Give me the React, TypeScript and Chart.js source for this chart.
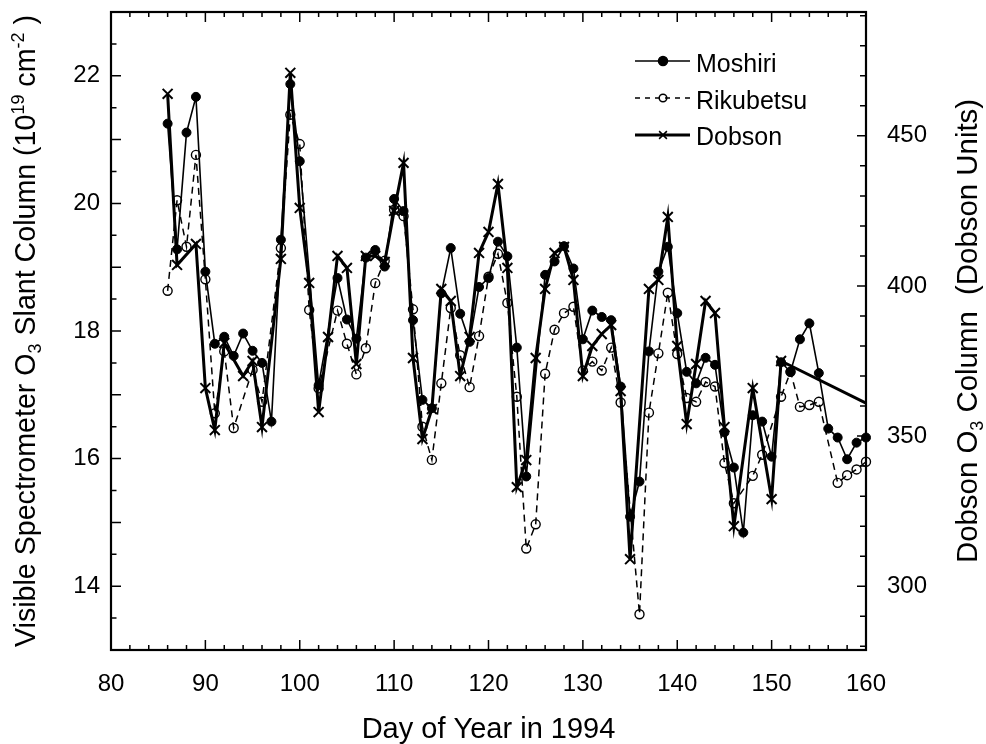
import React, { useEffect, useRef } from 'react';
import { Chart, registerables } from 'chart.js';

Chart.register(...registerables);

const FONT = '"Liberation Sans", Arial, Helvetica, sans-serif';

// Day of year (x) and visible spectrometer slant column, 10^19 cm^-2 (left axis)
const moshiriDays = [86, 87, 88, 89, 90, 91, 92, 93, 94, 95, 96, 97, 98, 99, 100, 102, 104, 105, 106, 107, 108, 109, 110, 111, 112, 113, 114, 115, 116, 117, 118, 119, 120, 121, 122, 123, 124, 126, 127, 128, 129, 130, 131, 132, 133, 134, 135, 136, 137, 138, 139, 140, 141, 142, 143, 144, 145, 146, 147, 148, 149, 150, 151, 152, 153, 154, 155, 156, 157, 158, 159, 160];
const moshiriValues = [21.25, 19.28, 21.11, 21.67, 18.93, 17.8, 17.91, 17.61, 17.96, 17.69, 17.5, 16.58, 19.43, 21.87, 20.66, 17.15, 18.83, 18.18, 17.88, 19.15, 19.27, 19.01, 20.07, 19.88, 18.17, 16.92, 16.79, 18.59, 19.3, 18.27, 17.83, 18.69, 18.83, 19.4, 19.17, 17.74, 15.72, 18.88, 19.09, 19.33, 18.98, 17.87, 18.32, 18.22, 18.17, 17.13, 15.09, 15.64, 17.68, 18.93, 19.32, 18.28, 17.36, 17.18, 17.58, 17.47, 16.41, 15.86, 14.84, 16.68, 16.58, 16.03, 17.51, 17.36, 17.87, 18.12, 17.34, 16.47, 16.33, 15.99, 16.25, 16.33];

const rikubetsuDays = [86, 87, 88, 89, 90, 91, 92, 93, 95, 96, 98, 99, 100, 101, 102, 104, 105, 106, 107, 108, 109, 110, 111, 112, 113, 114, 115, 116, 117, 118, 119, 120, 121, 122, 123, 124, 125, 126, 127, 128, 129, 130, 131, 132, 133, 134, 136, 137, 138, 139, 140, 141, 142, 143, 144, 145, 146, 148, 149, 151, 152, 153, 154, 155, 157, 158, 159, 160];
const rikubetsuValues = [18.63, 20.05, 19.32, 20.76, 18.81, 16.71, 17.68, 16.48, 17.39, 16.89, 19.3, 21.39, 20.93, 18.33, 17.1, 18.32, 17.8, 17.32, 17.73, 18.75, 19.1, 19.9, 19.8, 18.34, 16.5, 15.98, 17.18, 18.36, 17.62, 17.12, 17.92, 18.85, 19.21, 18.44, 16.97, 14.59, 14.97, 17.33, 18.02, 18.28, 18.38, 17.38, 17.52, 17.38, 17.74, 16.88, 13.56, 16.72, 17.65, 18.6, 17.64, 16.95, 16.89, 17.2, 17.13, 15.93, 15.3, 15.73, 16.06, 16.97, 17.36, 16.81, 16.84, 16.89, 15.62, 15.74, 15.83, 15.95];

// Dobson total ozone column, Dobson Units (right axis)
const dobsonDays = [86, 87, 89, 90, 91, 92, 94, 95, 96, 98, 99, 100, 101, 102, 103, 104, 105, 106, 107, 108, 109, 110, 111, 112, 113, 114, 115, 116, 117, 118, 119, 120, 121, 122, 123, 124, 125, 126, 127, 128, 129, 130, 131, 132, 133, 134, 135, 137, 138, 139, 140, 141, 142, 143, 144, 145, 146, 148, 150, 151, 160];
const dobsonValues = [464, 407, 414, 366, 352, 381, 370, 375, 353, 409, 471, 426, 401, 358, 383, 410, 406, 374, 410, 410, 408, 425, 441, 376, 349, 359, 399, 395, 370, 383, 411, 418, 434, 406, 333, 342, 376, 399, 411, 413, 402, 370, 380, 384, 387, 365, 309, 399, 402, 423, 380, 354, 374, 395, 391, 353, 320, 366, 329, 375, 361];

const xTickLabels = [80, 90, 100, 110, 120, 130, 140, 150, 160];
const leftTickLabels = [14, 16, 18, 20, 22];
const rightTickLabels = [300, 350, 400, 450];

const X_MIN = 80;
const X_MAX = 160;
const LEFT_MIN = 13;
const LEFT_MAX = 23;
const RIGHT_MIN = 278.75;
const RIGHT_MAX = 491.25;

type Part = { t: string; sub?: boolean; sup?: boolean };

const xTitle: Part[] = [{ t: 'Day of Year in 1994' }];
const leftTitle: Part[] = [
  { t: 'Visible Spectrometer O' },
  { t: '3', sub: true },
  { t: ' Slant Column (10' },
  { t: '19', sup: true },
  { t: ' cm' },
  { t: '-2', sup: true },
  { t: ' )' },
];
const rightTitle: Part[] = [
  { t: 'Dobson O' },
  { t: '3', sub: true },
  { t: ' Column  (Dobson Units)' },
];

function drawRich(ctx: CanvasRenderingContext2D, parts: Part[], size: number, cx: number, cy: number, rot: number) {
  ctx.save();
  ctx.translate(cx, cy);
  ctx.rotate(rot);
  ctx.fillStyle = '#000';
  ctx.textBaseline = 'alphabetic';
  ctx.textAlign = 'left';
  const fontFor = (p: Part) => `${p.sub || p.sup ? Math.round(size * 0.62) : size}px ${FONT}`;
  let total = 0;
  const widths = parts.map((p) => {
    ctx.font = fontFor(p);
    const w = ctx.measureText(p.t).width;
    total += w;
    return w;
  });
  let x = -total / 2;
  parts.forEach((p, i) => {
    ctx.font = fontFor(p);
    const dy = p.sub ? size * 0.22 : p.sup ? -size * 0.4 : 0;
    ctx.fillText(p.t, x, dy);
    x += widths[i];
  });
  ctx.restore();
}

function drawMarker(ctx: CanvasRenderingContext2D, style: string, x: number, y: number, r: number, filled: boolean, lw: number) {
  ctx.save();
  ctx.strokeStyle = '#000';
  ctx.fillStyle = '#000';
  ctx.lineWidth = lw;
  ctx.setLineDash([]);
  ctx.beginPath();
  if (style === 'crossRot') {
    const d = r * Math.SQRT1_2;
    ctx.moveTo(x - d, y - d);
    ctx.lineTo(x + d, y + d);
    ctx.moveTo(x + d, y - d);
    ctx.lineTo(x - d, y + d);
    ctx.stroke();
  } else {
    ctx.arc(x, y, r, 0, Math.PI * 2);
    if (filled) ctx.fill();
    ctx.stroke();
  }
  ctx.restore();
}

const framePlugin = {
  id: 'frameTicks',
  afterDraw(chart: any) {
    const { ctx, chartArea, scales } = chart;
    const { left, right, top, bottom } = chartArea;
    const xs = scales.x;
    const ys = scales.y;
    const y2 = scales.y2;
    ctx.save();
    ctx.strokeStyle = '#000';
    ctx.lineWidth = 1.5;
    ctx.beginPath();
    xs.ticks.forEach((t: any) => {
      const v = t.value;
      if (v <= X_MIN || v >= X_MAX) return;
      const p = xs.getPixelForValue(v);
      const len = v % 10 === 0 ? 10 : 5;
      ctx.moveTo(p, bottom);
      ctx.lineTo(p, bottom - len);
      ctx.moveTo(p, top);
      ctx.lineTo(p, top + len);
    });
    ys.ticks.forEach((t: any) => {
      const v = t.value;
      if (v <= LEFT_MIN || v >= LEFT_MAX) return;
      const p = ys.getPixelForValue(v);
      const len = Math.abs(v - Math.round(v)) < 1e-6 ? 10 : 5.5;
      ctx.moveTo(left, p);
      ctx.lineTo(left + len, p);
    });
    y2.ticks.forEach((t: any) => {
      const v = t.value;
      if (v <= RIGHT_MIN || v >= RIGHT_MAX) return;
      const p = y2.getPixelForValue(v);
      const len = v % 50 === 0 ? 9 : 6;
      ctx.moveTo(right, p);
      ctx.lineTo(right - len, p);
    });
    ctx.stroke();
    ctx.lineWidth = 2.2;
    ctx.strokeRect(left, top, right - left, bottom - top);
    ctx.restore();
  },
};

const titlesPlugin = {
  id: 'richTitles',
  afterDraw(chart: any) {
    const { ctx, chartArea } = chart;
    const { left, right, top, bottom } = chartArea;
    drawRich(ctx, xTitle, 29, (left + right) / 2, 738, 0);
    drawRich(ctx, leftTitle, 28.6, 35, (top + bottom) / 2, -Math.PI / 2);
    drawRich(ctx, rightTitle, 29.4, 977, (top + bottom) / 2, -Math.PI / 2);
  },
};

const legendPlugin = {
  id: 'lineLegend',
  afterDraw(chart: any) {
    const ctx = chart.ctx as CanvasRenderingContext2D;
    const lineY = [61, 98, 135];
    const textY = [72, 108.5, 145];
    const markerR = [4.5, 3.8, 5.5];
    chart.data.datasets.forEach((ds: any, i: number) => {
      const y = lineY[i];
      ctx.save();
      ctx.strokeStyle = '#000';
      ctx.lineWidth = ds.borderWidth;
      ctx.setLineDash(ds.borderDash ? [5, 5] : []);
      ctx.beginPath();
      ctx.moveTo(635, y);
      ctx.lineTo(690, y);
      ctx.stroke();
      ctx.restore();
      drawMarker(ctx, ds.pointStyle, 663, y, markerR[i], ds.label === 'Moshiri', 1.5);
      ctx.save();
      ctx.fillStyle = '#000';
      ctx.font = `25px ${FONT}`;
      ctx.textBaseline = 'alphabetic';
      ctx.textAlign = 'left';
      ctx.fillText(ds.label, 696, textY[i]);
      ctx.restore();
    });
  },
};

const fixVertical = (w: number) => (s: any) => {
  s.width = w;
  s.paddingTop = 0;
  s.paddingBottom = 0;
};

export default function App() {
  const ref = useRef<HTMLCanvasElement>(null);

  useEffect(() => {
    const canvas = ref.current;
    if (!canvas) return;
    const tickFont = { family: FONT, size: 24 };
    const chart = new Chart(canvas, {
      type: 'line',
      data: {
        datasets: [
          {
            label: 'Moshiri',
            data: moshiriDays.map((d, i) => ({ x: d, y: moshiriValues[i] })),
            yAxisID: 'y',
            borderColor: '#000',
            borderWidth: 1.6,
            pointStyle: 'circle',
            pointRadius: 4.5,
            pointBackgroundColor: '#000',
            pointBorderColor: '#000',
            pointBorderWidth: 1,
            tension: 0,
            clip: false as any,
            order: 1,
          },
          {
            label: 'Rikubetsu',
            data: rikubetsuDays.map((d, i) => ({ x: d, y: rikubetsuValues[i] })),
            yAxisID: 'y',
            borderColor: '#000',
            borderWidth: 1.5,
            borderDash: [7, 5],
            pointStyle: 'circle',
            pointRadius: 4.5,
            pointBackgroundColor: 'rgba(0,0,0,0)',
            pointBorderColor: '#000',
            pointBorderWidth: 1.4,
            tension: 0,
            clip: false as any,
            order: 2,
          },
          {
            label: 'Dobson',
            data: dobsonDays.map((d, i) => ({ x: d, y: dobsonValues[i] })),
            yAxisID: 'y2',
            borderColor: '#000',
            borderWidth: 3,
            pointStyle: 'crossRot',
            pointRadius: (c: any) => (c.raw && c.raw.x >= X_MAX ? 0 : 7),
            pointBorderColor: '#000',
            pointBorderWidth: 2,
            tension: 0,
            clip: false as any,
            order: 3,
          },
        ],
      },
      options: {
        responsive: false,
        animation: false,
        events: [],
        layout: { padding: { top: 12, left: 0, right: 0, bottom: 0 } },
        plugins: {
          legend: { display: false },
          tooltip: { enabled: false },
          title: { display: false },
        },
        scales: {
          x: {
            type: 'linear',
            position: 'bottom',
            min: X_MIN,
            max: X_MAX,
            grid: { display: false, drawTicks: false },
            border: { display: false },
            ticks: {
              stepSize: 2,
              autoSkip: false,
              maxRotation: 0,
              minRotation: 0,
              padding: 20,
              color: '#000',
              font: tickFont,
              callback: (v: any) => (xTickLabels.includes(Number(v)) ? String(v) : ''),
            },
            afterFit: (s: any) => {
              s.height = 94;
              s.paddingLeft = 0;
              s.paddingRight = 0;
            },
          },
          y: {
            type: 'linear',
            position: 'left',
            min: LEFT_MIN,
            max: LEFT_MAX,
            grid: { display: false, drawTicks: false },
            border: { display: false },
            ticks: {
              stepSize: 0.5,
              autoSkip: false,
              padding: 11,
              color: '#000',
              font: tickFont,
              callback: (v: any) => (leftTickLabels.includes(Number(v)) ? String(v) : ''),
            },
            afterFit: fixVertical(111),
          },
          y2: {
            type: 'linear',
            position: 'right',
            min: RIGHT_MIN,
            max: RIGHT_MAX,
            grid: { display: false, drawTicks: false },
            border: { display: false },
            ticks: {
              stepSize: 10,
              autoSkip: false,
              includeBounds: false,
              padding: 21,
              color: '#000',
              font: tickFont,
              callback: (v: any) => (rightTickLabels.includes(Number(v)) ? String(v) : ''),
            },
            afterFit: fixVertical(120),
          },
        },
      } as any,
      plugins: [framePlugin, titlesPlugin, legendPlugin],
    });
    return () => chart.destroy();
  }, []);

  return (
    <div style={{ position: 'fixed', left: 0, top: 0, width: 986, height: 744, background: '#fff' }}>
      <canvas ref={ref} width={986} height={744} style={{ display: 'block', width: 986, height: 744 }} />
    </div>
  );
}
